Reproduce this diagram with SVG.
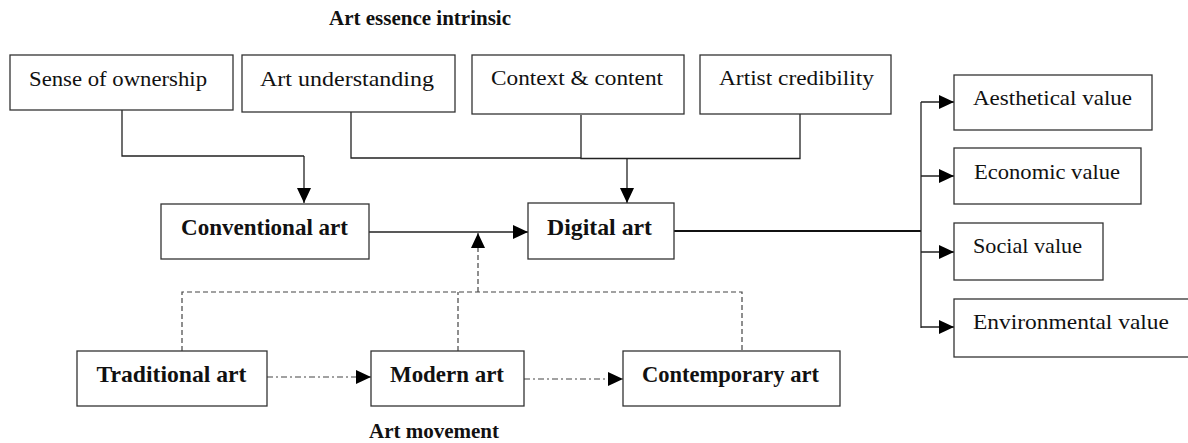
<svg xmlns="http://www.w3.org/2000/svg" width="1188" height="443" viewBox="0 0 1188 443">
<style>
.box{fill:#fff;stroke:#333;stroke-width:1.3}
.t{font-family:"Liberation Serif","Times New Roman",serif;font-size:22px;fill:#111}
.b{font-family:"Liberation Serif","Times New Roman",serif;font-size:23px;font-weight:bold;fill:#111}
.h{font-family:"Liberation Serif","Times New Roman",serif;font-size:20px;font-weight:bold;fill:#111}
.c{fill:none;stroke:#222;stroke-width:1.3}
.thick{fill:none;stroke:#111;stroke-width:2}
.dash{fill:none;stroke:#444;stroke-width:1.2;stroke-dasharray:5,3}
.dd{fill:none;stroke:#444;stroke-width:1.2;stroke-dasharray:6,3,2,3}
</style>
<defs>
<marker id="ah" markerWidth="15" markerHeight="14" refX="15" refY="7" orient="auto" markerUnits="userSpaceOnUse">
<path d="M0,0 L15,7 L0,14 Z" fill="#000"/>
</marker>
</defs>
<rect width="1188" height="443" fill="#fff"/>
<text class="h" x="420" y="25" text-anchor="middle" textLength="182" lengthAdjust="spacingAndGlyphs">Art essence intrinsic</text>
<text class="h" x="434" y="438" text-anchor="middle" textLength="130" lengthAdjust="spacingAndGlyphs">Art movement</text>
<g id="connectors">
<path class="c" d="M122,110 V156 H304"/>
<path class="c" d="M304,156 V203" marker-end="url(#ah)"/>
<path class="c" d="M351,112 V158 H581"/>
<path class="c" d="M581,115 V158.5 H800 V114"/>
<path class="c" d="M627,158 V203" marker-end="url(#ah)"/>
<path class="c" d="M369,232 H528" marker-end="url(#ah)"/>
<path class="dash" d="M478,292 V233" marker-end="url(#ah)"/>
<path class="dash" d="M182,351 V292 H742 V351"/>
<path class="dash" d="M458,351 V292"/>
<path class="dd" d="M267,377 H371" marker-end="url(#ah)"/>
<path class="dd" d="M524,379 H623" marker-end="url(#ah)"/>
<path class="thick" d="M674,231 H921"/>
<path class="c" d="M921,102 V328"/>
<path class="c" d="M921,102 H954" marker-end="url(#ah)"/>
<path class="c" d="M921,176 H954" marker-end="url(#ah)"/>
<path class="c" d="M921,252 H954" marker-end="url(#ah)"/>
<path class="c" d="M921,327 H954" marker-end="url(#ah)"/>
</g>
<g id="n-ownership"><rect class="box" x="10" y="55" width="223" height="55"/><text class="t" x="29" y="85.5" textLength="178" lengthAdjust="spacingAndGlyphs">Sense of ownership</text></g>
<g id="n-understanding"><rect class="box" x="242" y="55" width="213" height="57"/><text class="t" x="260" y="85.5" textLength="174" lengthAdjust="spacingAndGlyphs">Art understanding</text></g>
<g id="n-context"><rect class="box" x="472" y="55" width="212" height="59"/><text class="t" x="491" y="85" textLength="172" lengthAdjust="spacingAndGlyphs">Context &amp; content</text></g>
<g id="n-credibility"><rect class="box" x="700" y="55" width="191" height="59"/><text class="t" x="719" y="85" textLength="155" lengthAdjust="spacingAndGlyphs">Artist credibility</text></g>
<g id="n-conventional"><rect class="box" x="161" y="204" width="208" height="55"/><text class="b" x="181" y="235" textLength="167" lengthAdjust="spacingAndGlyphs">Conventional art</text></g>
<g id="n-digital"><rect class="box" x="528" y="203" width="146" height="56"/><text class="b" x="547" y="235" textLength="105" lengthAdjust="spacingAndGlyphs">Digital art</text></g>
<g id="n-traditional"><rect class="box" x="77" y="351" width="190" height="55"/><text class="b" x="96.5" y="381.5" textLength="150" lengthAdjust="spacingAndGlyphs">Traditional art</text></g>
<g id="n-modern"><rect class="box" x="371" y="351" width="153" height="55"/><text class="b" x="390" y="381.5" textLength="114" lengthAdjust="spacingAndGlyphs">Modern art</text></g>
<g id="n-contemporary"><rect class="box" x="623" y="351" width="217" height="55"/><text class="b" x="642" y="381.5" textLength="177" lengthAdjust="spacingAndGlyphs">Contemporary art</text></g>
<g id="n-aesthetical"><rect class="box" x="954" y="75" width="198" height="55"/><text class="t" x="973" y="105" textLength="159" lengthAdjust="spacingAndGlyphs">Aesthetical value</text></g>
<g id="n-economic"><rect class="box" x="954" y="148" width="187" height="56"/><text class="t" x="974" y="179" textLength="146" lengthAdjust="spacingAndGlyphs">Economic value</text></g>
<g id="n-social"><rect class="box" x="954" y="223" width="149" height="57"/><text class="t" x="973" y="252.5" textLength="109" lengthAdjust="spacingAndGlyphs">Social value</text></g>
<g id="n-environmental"><rect class="box" x="954" y="299" width="240" height="58"/><text class="t" x="973" y="329" textLength="196" lengthAdjust="spacingAndGlyphs">Environmental value</text></g>
</svg>
